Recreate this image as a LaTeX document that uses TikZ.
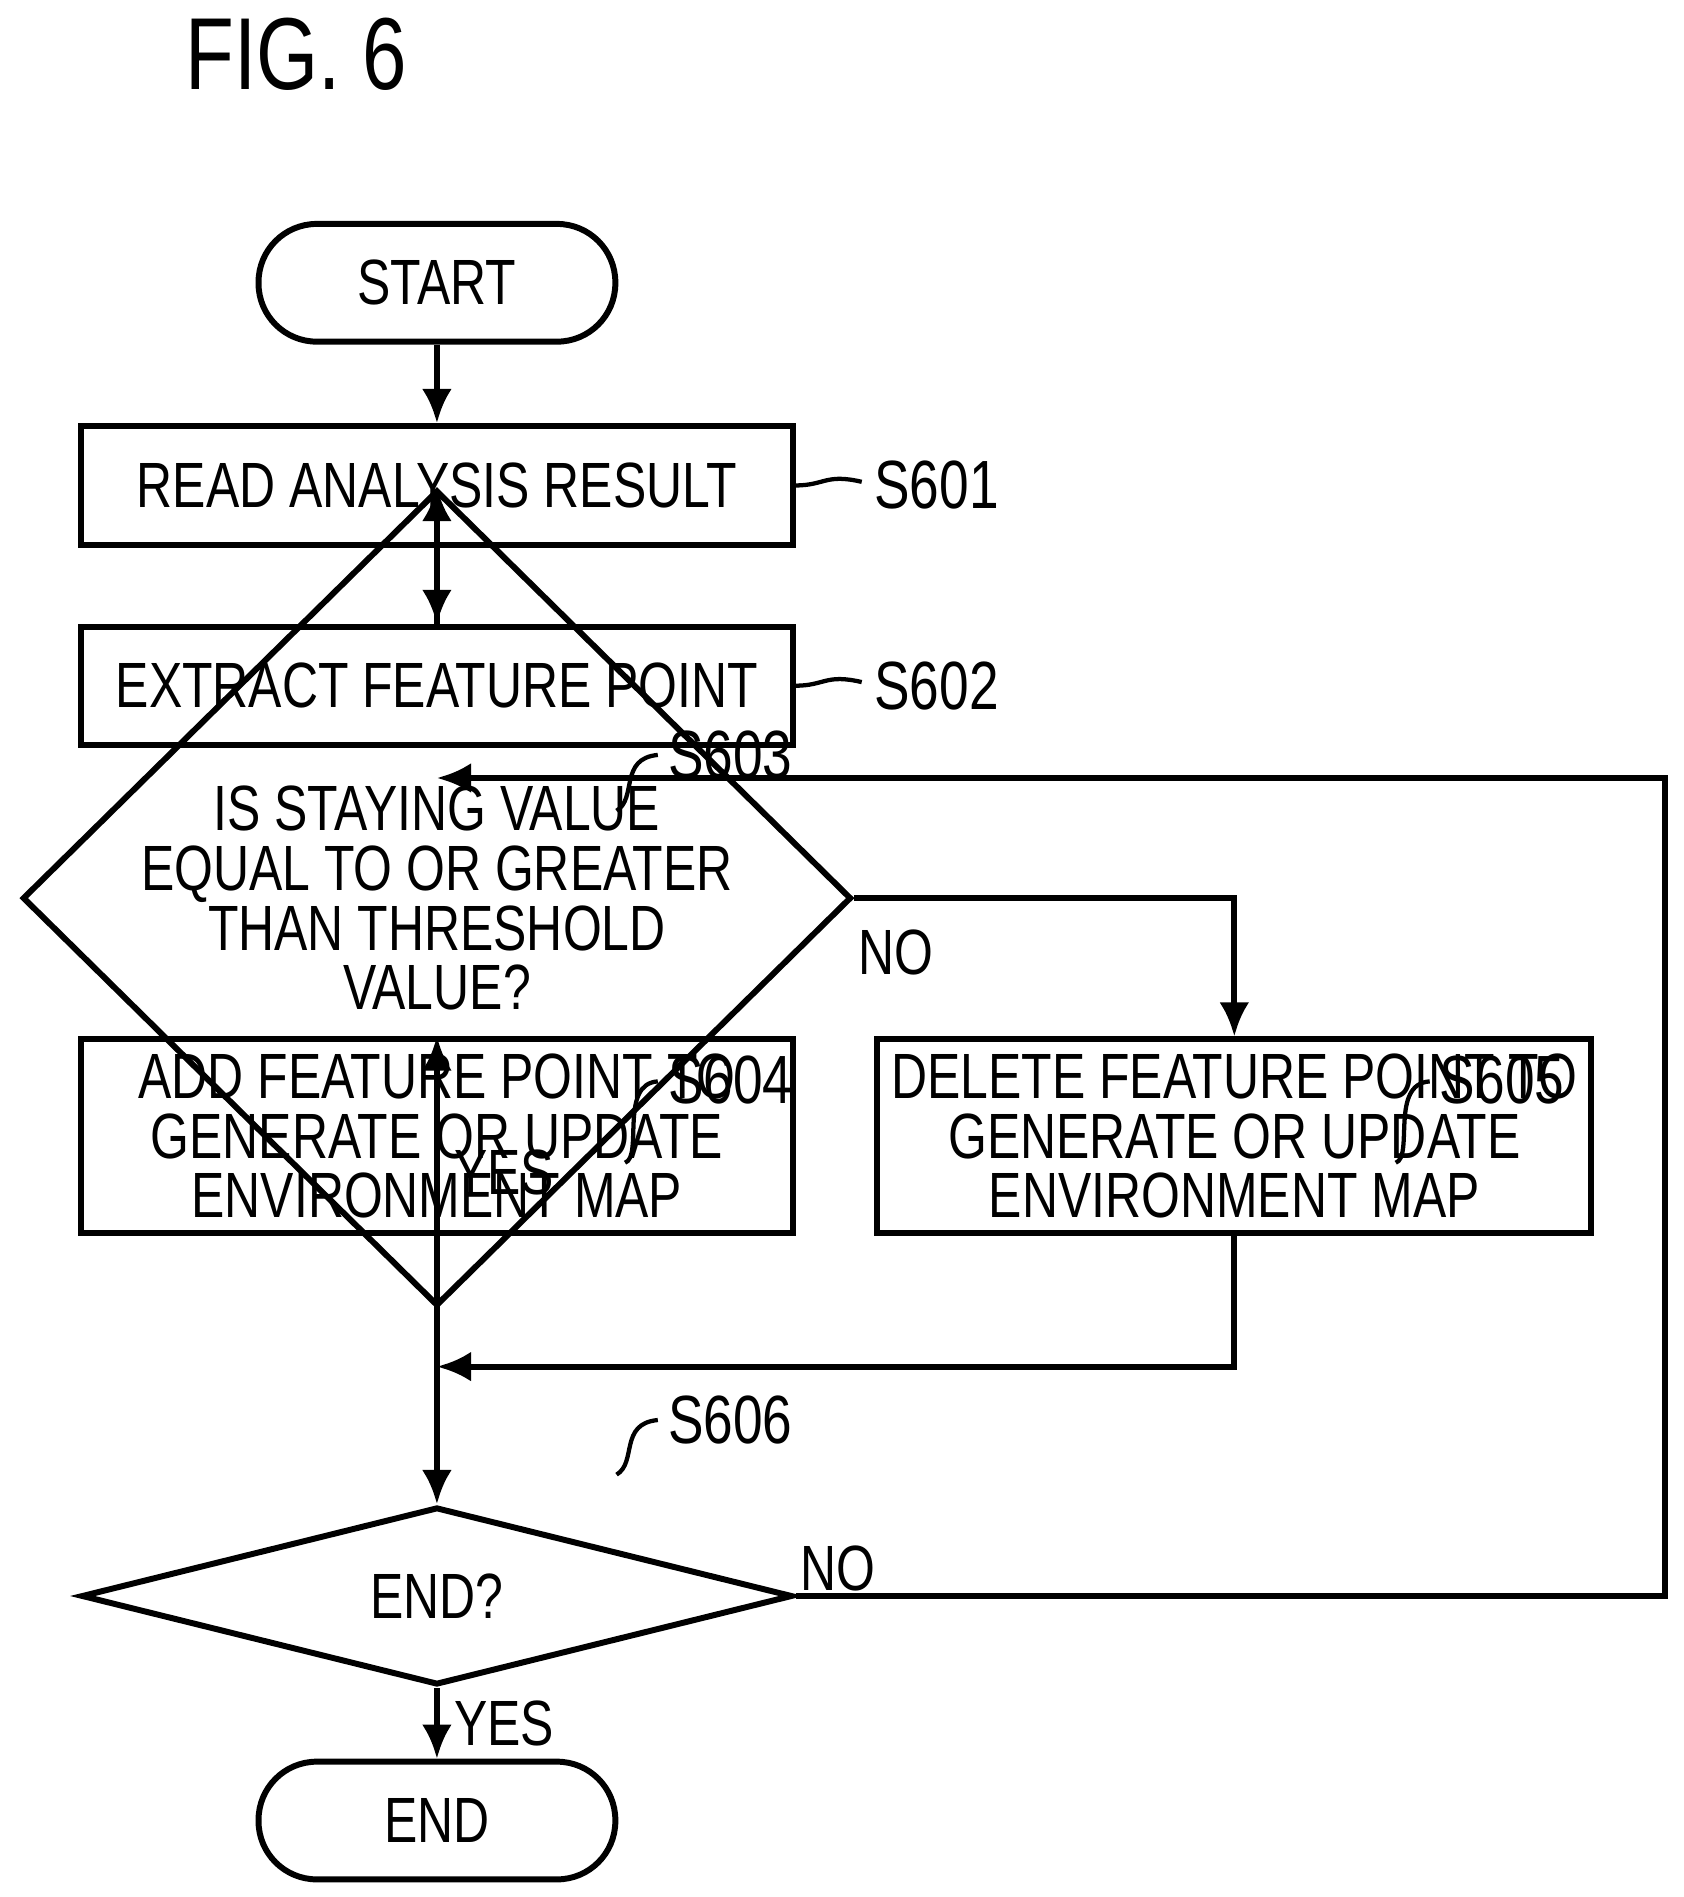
\documentclass[tikz,border=0pt]{standalone}
\usepackage{fontspec}
\setmainfont{Liberation Sans}[FakeStretch=0.78]
\usetikzlibrary{shapes.geometric,arrows.meta}
\tikzset{
  box/.style={draw,line width=1.4pt,minimum width=5.86cm,align=center,font=\fontsize{15}{14}\selectfont},
  term/.style={draw,line width=1.4pt,rounded corners=0.48cm,minimum width=2.94cm,minimum height=0.97cm,font=\fontsize{15}{14}\selectfont},
  dec/.style={draw,line width=1.4pt,diamond,inner sep=0pt,align=center,font=\fontsize{15}{14}\selectfont},
  flow/.style={line width=1.4pt,-{Latex[length=8pt,width=7pt]}},
  steplbl/.style={font=\fontsize{16}{16}\selectfont,anchor=west},
  yn/.style={font=\fontsize{15}{15}\selectfont}
}
\begin{document}
\begin{tikzpicture}
\useasboundingbox (0,0) rectangle (13.87,15.63);
\node[font=\fontsize{24}{24}\selectfont] (fig) at (2.44,15.18) {FIG. 6};

\node[term] (start) at (3.60,13.30) {START};
\node[box,minimum height=0.98cm] (s601) at (3.60,11.63) {READ ANALYSIS RESULT};
\node[box,minimum height=0.97cm] (s602) at (3.60,9.98) {EXTRACT FEATURE POINT};
\node[dec,minimum width=6.83cm,minimum height=2.49cm] (s603) at (3.60,8.23)
  {IS STAYING VALUE\\EQUAL TO OR GREATER\\THAN THRESHOLD\\VALUE?};
\node[box,minimum height=1.56cm] (s604) at (3.60,6.27) {ADD FEATURE POINT TO\\GENERATE OR UPDATE\\ENVIRONMENT MAP};
\node[box,minimum height=1.56cm] (s605) at (10.17,6.27) {DELETE FEATURE POINT TO\\GENERATE OR UPDATE\\ENVIRONMENT MAP};
\node[dec,minimum width=5.86cm,minimum height=1.36cm] (s606) at (3.60,2.48) {END?};
\node[term] (end) at (3.60,0.63) {END};

\coordinate (loop) at (3.60,9.22);
\coordinate (join) at (3.60,4.37);

\draw[flow] (start) -- (s601);
\draw[flow] (s601) -- (s602);
\draw[flow] (s602) -- (s603);
\draw[flow] (s603) -- node[yn,right] {YES} (s604);
\draw[flow] (s603.east) -- (10.17,8.23) -- (s605);
\draw[flow] (s604) -- (s606);
\draw[flow] (s605.south) |- (join);
\draw[flow] (s606.east) -- (13.72,2.48) |- (loop);
\draw[flow] (s606) -- node[yn,right] {YES} (end);

\node[yn] (no1) at (7.38,7.78) {NO};
\node[yn] (no2) at (6.90,2.71) {NO};

% step labels
\draw[line width=1pt] (6.55,11.63) .. controls (6.8,11.63) and (6.8,11.73) .. (7.1,11.66);
\node[steplbl] (l601) at (7.08,11.63) {S601};
\draw[line width=1pt] (6.55,9.98) .. controls (6.8,9.98) and (6.8,10.08) .. (7.1,10.01);
\node[steplbl] (l602) at (7.08,9.98) {S602};
\draw[line width=1pt] (5.08,8.95) .. controls (5.25,9.05) and (5.1,9.38) .. (5.42,9.41);
\node[steplbl] (l603) at (5.38,9.41) {S603};
\draw[line width=1pt] (5.15,6.05) .. controls (5.3,6.1) and (5.1,6.7) .. (5.42,6.72);
\node[steplbl] (l604) at (5.38,6.73) {S604};
\draw[line width=1pt] (11.50,6.05) .. controls (11.65,6.1) and (11.45,6.7) .. (11.78,6.72);
\node[steplbl] (l605) at (11.74,6.73) {S605};
\draw[line width=1pt] (5.08,3.48) .. controls (5.25,3.58) and (5.1,3.9) .. (5.42,3.93);
\node[steplbl] (l606) at (5.38,3.93) {S606};
\end{tikzpicture}
\end{document}
